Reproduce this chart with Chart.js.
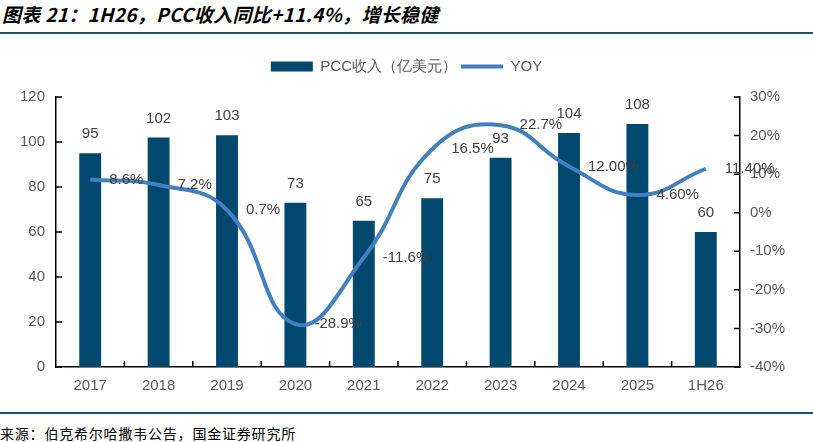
<!DOCTYPE html>
<html>
<head>
<meta charset="utf-8">
<script src="https://cdn.jsdelivr.net/npm/chart.js@4.4.1/dist/chart.umd.min.js"></script>
<style>
  body { margin: 0; background: #fff; width: 813px; height: 442px; position: relative; overflow: hidden; }
  #title { position: absolute; left: 2px; top: 0; line-height: 32px; font: italic bold 19px "Noto Sans CJK SC", sans-serif; letter-spacing: 0.3px; color: #000; white-space: nowrap; }
  .rule { position: absolute; left: 0; width: 813px; height: 2px; background: #1f4e79; }
  #wrap { position: absolute; left: 0; top: 35px; width: 813px; height: 377px; }
  #source { position: absolute; left: 0; top: 423px; line-height: 18px; font: 14px "Noto Sans CJK SC", sans-serif; letter-spacing: 0.8px; color: #000; white-space: nowrap; }
</style>
</head>
<body>
<div id="title">图表 21：1H26，PCC收入同比+11.4%，增长稳健</div>
<div class="rule" style="top:32px"></div>
<div id="wrap"><canvas id="chart"></canvas></div>
<div class="rule" style="top:412px"></div>
<div id="source">来源：伯克希尔哈撒韦公告，国金证券研究所</div>
<script>
const categories = ['2017', '2018', '2019', '2020', '2021', '2022', '2023', '2024', '2025', '1H26'];
const revenue = [95, 102, 103, 73, 65, 75, 93, 104, 108, 60];
const yoy = [8.6, 7.2, 0.7, -28.9, -11.6, 16.5, 22.7, 12.0, 4.6, 11.4];
const yoyLabels = ['8.6%', '7.2%', '0.7%', '-28.9%', '-11.6%', '16.5%', '22.7%', '12.00%', '4.60%', '11.40%'];

const tickFont = { family: 'Liberation Sans', size: 15 };

// ticks pointing into the plot, like the original
const innerTicks = {
  id: 'innerTicks',
  afterDraw(chart) {
    const ctx = chart.ctx;
    const { x, y, y1 } = chart.scales;
    const area = chart.chartArea;
    ctx.save();
    ctx.strokeStyle = '#000';
    ctx.lineWidth = 1.5;
    ctx.beginPath();
    y.ticks.forEach(t => {
      const py = y.getPixelForValue(t.value);
      ctx.moveTo(area.left, py); ctx.lineTo(area.left + 6, py);
    });
    y1.ticks.forEach(t => {
      const py = y1.getPixelForValue(t.value);
      ctx.moveTo(area.right, py); ctx.lineTo(area.right - 6, py);
    });
    for (let i = 0; i < categories.length - 1; i++) {
      const px = (x.getPixelForValue(i) + x.getPixelForValue(i + 1)) / 2;
      ctx.moveTo(px, area.bottom); ctx.lineTo(px, area.bottom - 6);
    }
    ctx.stroke();
    ctx.restore();
  }
};

const valueLabels = {
  id: 'valueLabels',
  afterDatasetsDraw(chart) {
    const ctx = chart.ctx;
    ctx.save();
    ctx.font = '15px "Liberation Sans"';
    ctx.fillStyle = '#404040';
    ctx.textBaseline = 'middle';
    ctx.textAlign = 'center';
    chart.getDatasetMeta(0).data.forEach((el, i) => {
      ctx.fillText(String(revenue[i]), el.x, el.y - 19);
    });
    ctx.textAlign = 'left';
    chart.getDatasetMeta(1).data.forEach((el, i) => {
      ctx.fillText(yoyLabels[i], el.x + 19, el.y);
    });
    ctx.restore();
  }
};

const legendHeight = {
  id: 'legendHeight',
  beforeInit(chart) {
    const fit = chart.legend.fit;
    chart.legend.fit = function() {
      fit.call(this);
      this.height = 42;
    };
  }
};

new Chart(document.getElementById('chart'), {
  data: {
    labels: categories,
    datasets: [
      {
        type: 'bar',
        label: 'PCC收入（亿美元）',
        data: revenue,
        backgroundColor: '#00486E',
        borderWidth: 0,
        barPercentage: 0.32,
        categoryPercentage: 1,
        yAxisID: 'y',
        order: 1
      },
      {
        type: 'line',
        label: 'YOY',
        data: yoy,
        borderColor: '#4380C0',
        backgroundColor: '#4380C0',
        borderWidth: 4,
        pointRadius: 0,
        tension: 0.45,
        yAxisID: 'y1',
        order: 0
      }
    ]
  },
  options: {
    responsive: true,
    maintainAspectRatio: false,
    animation: false,
    layout: { padding: { top: 20, left: 0, right: 0, bottom: 0 } },
    plugins: {
      tooltip: { enabled: false },
      legend: {
        position: 'top',
        labels: {
          usePointStyle: true,
          pointStyleWidth: 42,
          boxHeight: 10,
          padding: 4,
          color: '#595959',
          font: tickFont,
          sort: (a, b) => a.datasetIndex - b.datasetIndex,
          generateLabels(chart) {
            const items = Chart.defaults.plugins.legend.labels.generateLabels(chart);
            items.forEach(it => { it.pointStyle = it.datasetIndex === 0 ? 'rect' : 'line'; });
            return items;
          }
        }
      }
    },
    scales: {
      x: {
        grid: { display: false, drawTicks: false },
        border: { display: true, color: '#000', width: 1.5 },
        ticks: { color: '#595959', font: tickFont, padding: 10 },
        afterFit(scale) { scale.height = 45; }
      },
      y: {
        position: 'left',
        min: 0,
        max: 120,
        grid: { display: false, drawTicks: false },
        border: { display: true, color: '#000', width: 1.5 },
        ticks: { stepSize: 20, color: '#595959', font: tickFont, padding: 11 },
        afterFit(scale) { scale.width = 56; }
      },
      y1: {
        position: 'right',
        min: -40,
        max: 30,
        grid: { display: false, drawTicks: false },
        border: { display: true, color: '#000', width: 1.5 },
        ticks: { stepSize: 10, color: '#595959', font: tickFont, padding: 10, callback: v => v + '%' },
        afterFit(scale) { scale.width = 73; }
      }
    }
  },
  plugins: [innerTicks, valueLabels, legendHeight]
});
</script>
</body>
</html>
